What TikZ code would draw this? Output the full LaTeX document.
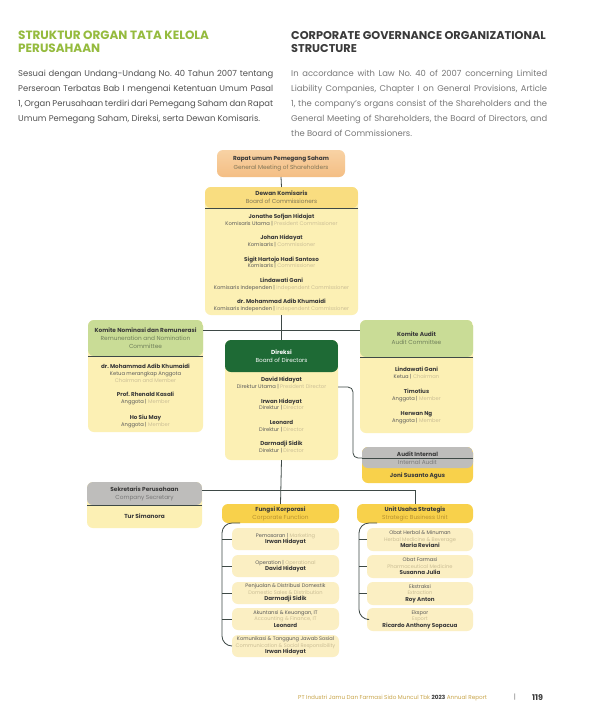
\documentclass[tikz,border=0pt]{standalone}
\usepackage{fontspec}
\setmainfont{Poppins}
\frenchspacing
\definecolor{tgreen}{HTML}{95BB3E}
\definecolor{tdark}{HTML}{3A3A3A}
\definecolor{pl}{HTML}{505050}
\definecolor{pr}{HTML}{787878}
\definecolor{ln}{HTML}{3E4946}
\definecolor{rupsA}{HTML}{F8D2A4}
\definecolor{rupsB}{HTML}{F4BE84}
\definecolor{yhdr}{HTML}{F9DD80}
\definecolor{ybody}{HTML}{FCF0B4}
\definecolor{ghdr}{HTML}{C9DC96}
\definecolor{dgreen}{HTML}{1E6A35}
\definecolor{gyhdr}{HTML}{BEBDBB}
\definecolor{ygold}{HTML}{F8D14B}
\definecolor{ysub}{HTML}{FBEFC3}
\definecolor{ink}{HTML}{3A3A3A}
\definecolor{mid}{HTML}{595959}
\definecolor{pale}{HTML}{CBBE95}
\definecolor{gold}{HTML}{C9A64C}
\definecolor{sub1}{HTML}{7F7557}
\definecolor{subg}{HTML}{6F7F5A}
\definecolor{subgold}{HTML}{B8912F}
\newcommand\en[1]{{\color{pale}#1}}
\newcommand\nm[1]{{\bfseries\color{ink}\fontsize{5.6}{6.6}\selectfont #1}}
\newcommand\jl[2]{\makebox[#1][s]{#2}}
\tikzset{
  box/.style={rounded corners=6pt, inner sep=0pt, outer sep=0pt, anchor=north west, draw=none},
  hdr/.style 2 args={path picture={\fill[#1] (path picture bounding box.north west) rectangle ([yshift=-#2]path picture bounding box.north east);}},
  conn/.style={draw=ln, line width=0.8pt},
  ct/.style={inner sep=0pt, align=center, text=mid, font=\fontsize{5.2}{6.8}\selectfont},
  ht/.style={inner sep=0pt, align=center, text=ink, font=\fontsize{5.8}{8}\selectfont},
  st/.style={inner sep=0pt, align=center, text=mid, font=\fontsize{5.1}{6.5}\selectfont},
}
\begin{document}
\begin{tikzpicture}[x=1pt,y=-1pt]
\useasboundingbox (0,0) rectangle (589,724);
\fill[white] (0,0) rectangle (589,724);

% titles
\node[anchor=base west, inner sep=0, align=left, text=tgreen, font=\fontsize{12}{13}\selectfont\bfseries] (tl) at (18,52) {STRUKTUR ORGAN TATA KELOLA\\PERUSAHAAN};
\node[anchor=base west, inner sep=0, align=left, text=tdark, font=\fontsize{11.3}{13}\selectfont\bfseries] (tr) at (291,52) {CORPORATE GOVERNANCE ORGANIZATIONAL\\STRUCTURE};
\node[anchor=north west, inner sep=0, align=left, text=pl, font=\fontsize{8.4}{15}\selectfont] (pleft) at (18,70) {%
\jl{255pt}{Sesuai dengan Undang-Undang No. 40 Tahun 2007 tentang}\\
\jl{255pt}{Perseroan Terbatas Bab I mengenai Ketentuan Umum Pasal}\\
\jl{255pt}{1, Organ Perusahaan terdiri dari Pemegang Saham dan Rapat}\\
Umum Pemegang Saham, Direksi, serta Dewan Komisaris.};
\node[anchor=north west, inner sep=0, align=left, text=pr, font=\fontsize{8.4}{15}\selectfont] (pright) at (291,70) {%
\jl{256pt}{In accordance with Law No. 40 of 2007 concerning Limited}\\
\jl{256pt}{Liability Companies, Chapter I on General Provisions, Article}\\
\jl{256pt}{1, the company's organs consist of the Shareholders and the}\\
\jl{256pt}{General Meeting of Shareholders, the Board of Directors, and}\\
the Board of Commissioners.};

% boxes
\node[box, top color=rupsA, bottom color=rupsB, minimum width=128pt, minimum height=27pt] (rups) at (217,150) {};
\node[box, fill=ybody, hdr={yhdr}{21pt}, minimum width=153pt, minimum height=128pt] (kom) at (205,187) {};
\node[box, fill=ybody, hdr={ghdr}{36pt}, minimum width=115pt, minimum height=112pt] (nom) at (88,320) {};
\node[box, fill=ybody, hdr={ghdr}{37pt}, minimum width=113pt, minimum height=113pt] (aud) at (360,320) {};
\node[box, fill=ybody, hdr={dgreen}{32pt}, minimum width=113pt, minimum height=120pt] (dir) at (225,340) {};
\node[box, fill=ygold, hdr={gyhdr}{21pt}, minimum width=111pt, minimum height=36pt] (ai) at (362,447) {};
\node[box, fill=ybody, hdr={gyhdr}{23pt}, minimum width=115pt, minimum height=46pt] (sek) at (87,482) {};
\node[box, fill=ygold, minimum width=117pt, minimum height=19pt] (fk) at (222,504) {};
\node[box, fill=ygold, minimum width=116pt, minimum height=19pt] (uu) at (357,504) {};
\foreach \n/\y in {f1/528,f2/555,f3/582,f4/608,f5/635}
  \node[box, fill=ysub, minimum width=107pt, minimum height=22pt] (\n) at (232,\y) {};
\foreach \n/\y in {u1/528,u2/555,u3/582,u4/608}
  \node[box, fill=ysub, minimum width=106pt, minimum height=23pt] (\n) at (367,\y) {};

% dividers
\draw[ln, line width=0.6pt] ([yshift=-21pt]kom.north west) -- ([yshift=-21pt]kom.north east);
\draw[ln, line width=0.5pt] ([yshift=-36pt]nom.north west) -- ([yshift=-36pt]nom.north east);
\draw[ln, line width=0.6pt] ([yshift=-37pt]aud.north west) -- ([yshift=-37pt]aud.north east);
\draw[ln, line width=0.6pt] ([yshift=-23pt]sek.north west) -- ([yshift=-23pt]sek.north east);

% connectors
\coordinate (hy) at (0,330);
\coordinate (hb) at (0,490);
\coordinate (dj) at (353,387);
\draw[conn] (rups.south) -- (kom.north);
\draw[conn] (kom.south) -- (dir.north);
\draw[conn] (nom.east |- hy) -- (aud.west |- hy);
\draw[conn, rounded corners=5pt] (dir.east |- dj) -- (dj) |- ([yshift=-11pt]ai.north west);
\draw[ln, line width=0.6pt] ([yshift=-11pt]ai.north west) -- ([yshift=-11pt]ai.north east);
\draw[conn] (dir.south) -- (fk.north);
\draw[conn] (sek.east |- hb) -- (uu.north |- hb) -- (uu.north);
\draw[conn, rounded corners=10pt] ([xshift=18pt]fk.south west) -- (fk.south west) -- (fk.west |- f5.west) -- (f5.west);
\foreach \n in {f1,f2,f3,f4} \draw[conn] (fk.west |- \n.west) -- (\n.west);
\draw[conn, rounded corners=10pt] ([xshift=20pt]uu.south west) -- ([xshift=2pt]uu.south west) -- ([xshift=2pt]uu.west |- u4.west) -- (u4.west);
\foreach \n in {u1,u2,u3} \draw[conn] ([xshift=2pt]uu.west |- \n.west) -- (\n.west);

% header texts
\node[ht, font=\fontsize{5.8}{9}\selectfont] (rupst) at (rups.center) {\bfseries Rapat umum Pemegang Saham\\{\color{sub1}\mdseries General Meeting of Shareholders}};
\node[ht] (komt) at ([yshift=-10.5pt]kom.north) {\bfseries Dewan Komisaris\\{\color{sub1}\mdseries Board of Commissioners}};
\node[ht] (nomt) at ([yshift=-18pt]nom.north) {\bfseries Komite Nominasi dan Remunerasi\\{\color{subg}\mdseries Remuneration and Nomination}\\{\color{subg}\mdseries Committee}};
\node[ht] (audt) at ([yshift=-18pt]aud.north) {\bfseries Komite Audit\\{\color{subg}\mdseries Audit Committee}};
\node[ht, text=white] (dirt) at ([yshift=-16pt]dir.north) {\bfseries Direksi\\{\mdseries Board of Directors}};
\node[ht] (ait) at ([yshift=-11pt]ai.north) {\bfseries Audit Internal\\[0.5pt]{\color{pr}\mdseries Internal Audit}};
\node[ht] (aib) at ([yshift=-29pt]ai.north) {\bfseries Joni Susanto Agus};
\node[ht] (sekt) at ([yshift=-11.5pt]sek.north) {\bfseries Sekretaris Perusahaan\\{\color{pr}\mdseries Company Secretary}};
\node[ht] (sekb) at ([yshift=-34.5pt]sek.north) {\bfseries Tur Simanora};
\node[ht] (fkt) at (fk.center) {\bfseries Fungsi Korporasi\\{\color{subgold}\mdseries Corporate Function}};
\node[ht] (uut) at (uu.center) {\bfseries Unit Usaha Strategis\\{\color{subgold}\mdseries Strategic Business Unit}};

% body texts
\node[ct, anchor=north] (komb) at (281.5,214) {%
\nm{Jonathe Sofjan Hidajat}\\ Komisaris Utama | \en{President Commissioner}\\[7.6pt]
\nm{Johan Hidayat}\\ Komisaris | \en{Commissioner}\\[7.6pt]
\nm{Sigit Hartojo Hadi Santoso}\\ Komisaris | \en{Commissioner}\\[7.6pt]
\nm{Lindawati Gani}\\ Komisaris Independen | \en{Independent Commissioner}\\[7.6pt]
\nm{dr. Mohammad Adib Khumaidi}\\ Komisaris Independen | \en{Independent Commissioner}};
\node[ct, anchor=north] (nomb) at (145.5,364) {%
\nm{dr. Mohammad Adib Khumaidi}\\ Ketua merangkap Anggota\\ \en{Chairman and Member}\\[7.8pt]
\nm{Prof. Rhenald Kasali}\\ Anggota | \en{Member}\\[8.8pt]
\nm{Ho Siu May}\\ Anggota | \en{Member}};
\node[ct, anchor=north] (dirb) at (281.5,377) {%
\nm{David Hidayat}\\ Direktur Utama | \en{President Director}\\[7.8pt]
\nm{Irwan Hidayat}\\ Direktur | \en{Director}\\[7.8pt]
\nm{Leonard}\\ Direktur | \en{Director}\\[7.8pt]
\nm{Darmadji Sidik}\\ Direktur | \en{Director}};
\node[ct, anchor=north] (audb) at (416.5,367) {%
\nm{Lindawati Gani}\\ Ketua | \en{Chairman}\\[8.4pt]
\nm{Timotius}\\ Anggota | \en{Member}\\[8.4pt]
\nm{Herwan Ng}\\ Anggota | \en{Member}};

% sub-box texts
\node[st] (f1t) at (f1.center) {Pemasaran | \en{Marketing}\\ \nm{Irwan Hidayat}};
\node[st] (f2t) at (f2.center) {Operation | \en{Operational}\\ \nm{David Hidayat}};
\node[st] (f3t) at (f3.center) {Penjualan \& Distribusi Domestik\\ \en{Domestic Sales \& Distribution}\\ \nm{Darmadji Sidik}};
\node[st] (f4t) at (f4.center) {Akuntansi \& Keuangan, IT\\ \en{Accounting \& Finance, IT}\\ \nm{Leonard}};
\node[st] (f5t) at (f5.center) {Komunikasi \& Tanggung Jawab Sosial\\ \en{Communication \& Social Responsibility}\\ \nm{Irwan Hidayat}};
\node[st] (u1t) at (u1.center) {Obat Herbal \& Minuman\\ \en{Herbal Medicine \& Beverage}\\ \nm{Maria Reviani}};
\node[st] (u2t) at (u2.center) {Obat Farmasi\\ \en{Pharmaceutical Medicine}\\ \nm{Susanna Julia}};
\node[st] (u3t) at (u3.center) {Ekstraksi\\ \en{Extraction}\\ \nm{Roy Anton}};
\node[st] (u4t) at (u4.center) {Ekspor\\ \en{Export}\\ \nm{Ricardo Anthony Sopacua}};

% footer
\node[anchor=base west, inner sep=0, text=gold, font=\fontsize{5.7}{6}\selectfont] (foot) at (298,699) {PT Industri Jamu Dan Farmasi Sido Muncul Tbk {\bfseries\color{ink}2023} Annual Report};
\node[anchor=base, inner sep=0, text=pr, font=\fontsize{7}{8}\selectfont] (bar) at (515,699.5) {|};
\node[anchor=base west, inner sep=0, text=ink, font=\fontsize{8}{8}\selectfont\bfseries] (pg) at (532,700) {119};
\end{tikzpicture}
\end{document}
